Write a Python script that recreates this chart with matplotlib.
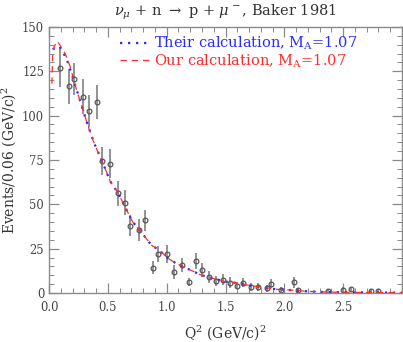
import numpy as np
import matplotlib
matplotlib.use("Agg")
import matplotlib.pyplot as plt
from matplotlib.ticker import MultipleLocator

plt.rcParams["font.family"] = ["DejaVu Serif"]
plt.rcParams["mathtext.fontset"] = "dejavuserif"

# measured points (Baker 1981)
q2_data = [0.09, 0.17, 0.215, 0.29, 0.34, 0.41, 0.45, 0.52, 0.59, 0.65,
           0.69, 0.765, 0.815, 0.885, 0.93, 1.005, 1.06, 1.13, 1.19, 1.25,
           1.30, 1.36, 1.415, 1.48, 1.54, 1.60, 1.65, 1.72, 1.78, 1.855,
           1.89, 1.97, 2.085, 2.12, 2.37, 2.50, 2.57, 2.74, 2.80]
events = [127, 116.5, 120.5, 110.7, 102.7, 107.5, 74.5, 73, 56.3, 51,
          38, 35.5, 41, 14.3, 22, 22, 12, 15.7, 6.2, 18,
          13, 9, 6.7, 7.5, 5.8, 4.1, 5.8, 3.4, 3.4, 2.6,
          5.3, 1.7, 6.0, 1.5, 1.0, 1.7, 2.1, 1.3, 1.3]
errors = [11, 10, 9, 10, 9, 9.5, 8, 8, 7, 7,
          6, 6, 6, 3.5, 4.7, 5, 4, 4, 2.5, 4.5,
          4, 3.5, 3, 3, 3, 2, 2.5, 2, 2, 2,
          2.5, 1.5, 3, 1.5, 1, 1.5, 1.5, 1, 1]

# their calculation
q2_their = [0.03, 0.09, 0.15, 0.21, 0.27, 0.33, 0.39, 0.45, 0.52, 0.59,
            0.65, 0.71, 0.77, 0.87, 0.94, 1.01, 1.08, 1.2, 1.29, 1.39,
            1.5, 1.62, 1.68, 1.82, 1.93, 2.04, 2.18, 2.32, 2.5, 2.7, 3.0]
their = [137.5, 139, 132, 120, 107, 94.5, 83.5, 74.5, 63, 56,
         48, 40.2, 35.5, 27, 24, 19.6, 16.7, 13, 10.2, 8.3,
         6.4, 5.5, 4.5, 3.2, 2.1, 1.7, 1.0, 0.6, 0.4, 0.3, 0.2]

# our calculation
q2_ours = [0.025, 0.03, 0.045, 0.07, 0.1, 0.14, 0.18, 0.23, 0.29, 0.32,
           0.37, 0.42, 0.46, 0.52, 0.59, 0.65, 0.71, 0.77, 0.87, 0.94,
           1.01, 1.08, 1.2, 1.29, 1.39, 1.5, 1.62, 1.68, 1.82, 1.93,
           2.04, 2.18, 2.32, 2.5, 2.7, 3.0]
ours = [118, 133, 139, 142, 139, 134.6, 127.6, 115.4, 103, 96.6,
        86.7, 78.8, 73, 63, 56, 48, 40.2, 35.5, 27, 24,
        19.6, 16.7, 13, 10.2, 8.3, 6.4, 5.5, 4.5, 3.2, 2.1,
        1.7, 1.0, 0.6, 0.4, 0.3, 0.2]

fig = plt.figure(figsize=(4.03, 3.42), dpi=100)
ax = fig.add_axes([0.1216, 0.1433, 0.876, 0.778])

grey = "#8a8a8a"
ax.errorbar(q2_data, events, yerr=errors, fmt="o", ms=3.4, mfc="none",
            mec="#555555", mew=0.9, ecolor=grey, elinewidth=1.3,
            capsize=0, zorder=2)
ax.plot(q2_their, their, color="#2b2bff", ls=(0, (1, 2.6)), lw=1.6,
        label=r"Their calculation, M$_\mathrm{A}$=1.07", zorder=3)
ax.plot(q2_ours, ours, color="#ff2b2b", ls=(0, (5, 4)), lw=0.9,
        label=r"Our calculation, M$_\mathrm{A}$=1.07", zorder=3)

ax.set_xlim(0, 3.0)
ax.set_ylim(0, 150)
ax.xaxis.set_major_locator(MultipleLocator(0.5))
ax.xaxis.set_minor_locator(MultipleLocator(0.1))
ax.yaxis.set_major_locator(MultipleLocator(25))
ax.yaxis.set_minor_locator(MultipleLocator(5))
ax.tick_params(which="both", direction="in", top=True, right=True,
               color=grey, labelcolor="#444444", labelsize=8.3)
ax.tick_params(which="major", length=7, width=0.9)
ax.tick_params(which="minor", length=3.5, width=0.7)
ax.tick_params(axis="x", pad=6)
ax.xaxis.set_major_formatter(
    plt.FuncFormatter(lambda v, p: "" if v > 2.9 else f"{v:.1f}"))
for s in ax.spines.values():
    s.set_color(grey)
    s.set_linewidth(1.0)

ax.set_xlabel(r"Q$^2$ (GeV/c)$^2$", fontsize=10, color="#333333", labelpad=6)
ax.set_ylabel(r"Events/0.06 (GeV/c)$^2$", fontsize=10, color="#333333", labelpad=3)
ax.set_title(r"$\nu_\mu$ + n $\rightarrow$ p + $\mu^-$, Baker 1981",
             fontsize=10.5, color="#333333", pad=8)

leg = ax.legend(loc="upper left", bbox_to_anchor=(0.2, 0.97), frameon=False,
                fontsize=10.5, handlelength=2.0, handletextpad=0.35,
                labelspacing=0.02, borderpad=0, borderaxespad=0)
for txt, line in zip(leg.get_texts(), leg.get_lines()):
    txt.set_color(line.get_color())

fig.savefig("out.png", dpi=100)
